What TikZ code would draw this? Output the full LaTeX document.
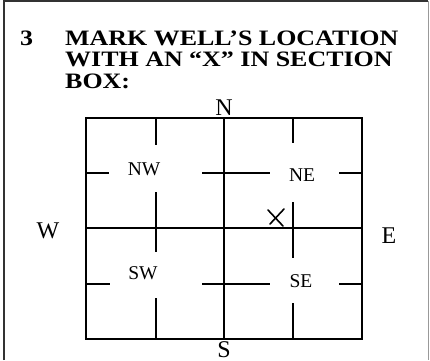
\documentclass[tikz,border=0pt]{standalone}
\usepackage{fontspec}
\setmainfont{Liberation Serif}
\newfontfamily\titlefont[FakeStretch=1.18]{Liberation Serif}
\tikzset{
  gridline/.style={line width=1.1pt, black},
  frameline/.style={line width=1.2pt, black!80},
  compass/.style={font=\fontsize{24}{24}\selectfont, inner sep=0pt},
  quad/.style={font=\fontsize{19.5}{19.5}\selectfont, inner sep=0pt},
  titletext/.style={font=\titlefont\bfseries\fontsize{22}{21.5}\selectfont, inner sep=0pt, align=left},
  xmark/.style={line width=1.6pt, black, line cap=round}
}
\begin{document}
\begin{tikzpicture}[x=1pt,y=-1pt]
\useasboundingbox (0,0) rectangle (430,360);
% outer frame
\draw[frameline] (4,360) -- (4,1) -- (428,1);
\draw[line width=0.8pt, black!40] (428,1) -- (428,360);
% title
\node[titletext, anchor=base west] (num) at (20,45) {3};
\node[titletext, anchor=base west] (title1) at (65,45) {MARK WELL’S LOCATION};
\node[titletext, anchor=base west] (title2) at (65,66.5) {WITH AN “X” IN SECTION};
\node[titletext, anchor=base west] (title3) at (65,88) {BOX:};
% grid
\draw[gridline] (86,118) rectangle (362,339);
\draw[gridline] (224,118) -- (224,339);
\draw[gridline] (86,228) -- (362,228);
% quarter lines
\draw[gridline] (156,118) -- (156,145) (156,192) -- (156,252) (156,298) -- (156,339);
\draw[gridline] (293,118) -- (293,143) (293,202) -- (293,258) (293,303) -- (293,339);
\draw[gridline] (86,173) -- (109,173) (202,173) -- (270,173) (339,173) -- (362,173);
\draw[gridline] (86,284) -- (110,284) (202,284) -- (270,284) (339,284) -- (362,284);
% labels
\node[quad] (nw) at (144,169) {NW};
\node[quad] (ne) at (302,175) {NE};
\node[quad] (sw) at (143,273) {SW};
\node[quad] (se) at (301,281) {SE};
\node[compass] (n) at (224,108) {N};
\node[compass] (w) at (48,231) {W};
\node[compass] (e) at (389,236) {E};
\node[compass, anchor=north] (s) at (224,341) {S};
% X mark
\draw[xmark] (268,210) -- (283,226);
\draw[xmark] (270,224) -- (284,209);
\end{tikzpicture}
\end{document}
